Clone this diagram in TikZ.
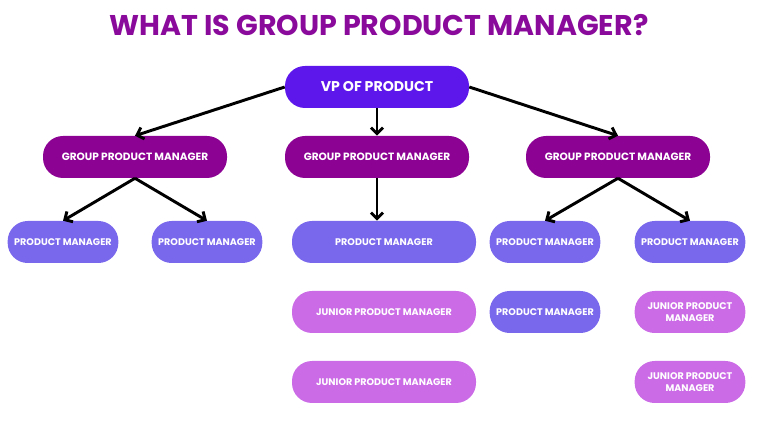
\documentclass[tikz,border=0pt]{standalone}
\usepackage{fontspec}
\setmainfont{Poppins}
\usetikzlibrary{shapes,arrows.meta,positioning,calc}
\usepackage{xcolor}
\definecolor{titlepurple}{HTML}{8A0A9C}
\definecolor{vpblue}{HTML}{5E17EB}
\definecolor{gpmpurple}{HTML}{8C0394}
\definecolor{pmblue}{HTML}{7A68EC}
\definecolor{juniorpink}{HTML}{CB6CE6}

\begin{document}
\begin{tikzpicture}[x=0.75pt, y=-0.75pt]
    \tikzstyle{box} = [rectangle, rounded corners=15pt, minimum height=31.5pt, inner sep=0pt, text=white, align=center, font=\bfseries\fontsize{7.2}{9}\selectfont]
    \tikzstyle{wide} = [box, minimum width=138pt]
    \tikzstyle{narrow} = [box, minimum width=83pt]
    \tikzstyle{group} = [wide, fill=gpmpurple, font=\bfseries\fontsize{7.9}{9.5}\selectfont]
    \tikzstyle{link} = [line width=2.2pt, -{Straight Barb[length=4.5pt, width=9pt]}]

    \useasboundingbox (0,0) rectangle (768,427);

    % Title
    \node[text=titlepurple, font=\bfseries\fontsize{21.4}{25}\selectfont] (title) at (379,25) {WHAT IS GROUP PRODUCT MANAGER?};

    % Nodes
    \node[wide, fill=vpblue, font=\bfseries\fontsize{10.6}{12}\selectfont] (vp) at (377,87) {VP OF PRODUCT};

    \node[group] (gpmleft) at (135,157) {GROUP PRODUCT MANAGER};
    \node[group] (gpmmid) at (377,157) {GROUP PRODUCT MANAGER};
    \node[group] (gpmright) at (618,157) {GROUP PRODUCT MANAGER};

    \node[narrow, fill=pmblue] (pmleftA) at (63,242) {PRODUCT MANAGER};
    \node[narrow, fill=pmblue] (pmleftB) at (207,242) {PRODUCT MANAGER};
    \node[wide, fill=pmblue] (pmmid) at (384,242) {PRODUCT MANAGER};
    \node[narrow, fill=pmblue] (pmrightA) at (545,242) {PRODUCT MANAGER};
    \node[narrow, fill=pmblue] (pmrightB) at (690,242) {PRODUCT MANAGER};

    % Second and third rows
    \node[wide, fill=juniorpink] (jrmidA) at (384,312) {JUNIOR PRODUCT MANAGER};
    \node[wide, fill=juniorpink] (jrmidB) at (384,382) {JUNIOR PRODUCT MANAGER};
    \node[narrow, fill=pmblue] (pmrightC) at (545,312) {PRODUCT MANAGER};
    \node[narrow, fill=juniorpink] (jrrightA) at (690,312) {JUNIOR PRODUCT\\MANAGER};
    \node[narrow, fill=juniorpink] (jrrightB) at (690,382) {JUNIOR PRODUCT\\MANAGER};

    % Links
    \draw[link] (vp.west) -- (gpmleft.north);
    \draw[link] (vp.south) -- (gpmmid.north);
    \draw[link] (vp.east) -- (gpmright.north);
    \draw[link] (gpmleft.south) -- (pmleftA.north);
    \draw[link] (gpmleft.south) -- (pmleftB.north);
    \draw[link] (gpmmid.south) -- (gpmmid.south |- pmmid.north);
    \draw[link] (gpmright.south) -- (pmrightA.north);
    \draw[link] (gpmright.south) -- (pmrightB.north);
\end{tikzpicture}
\end{document}
